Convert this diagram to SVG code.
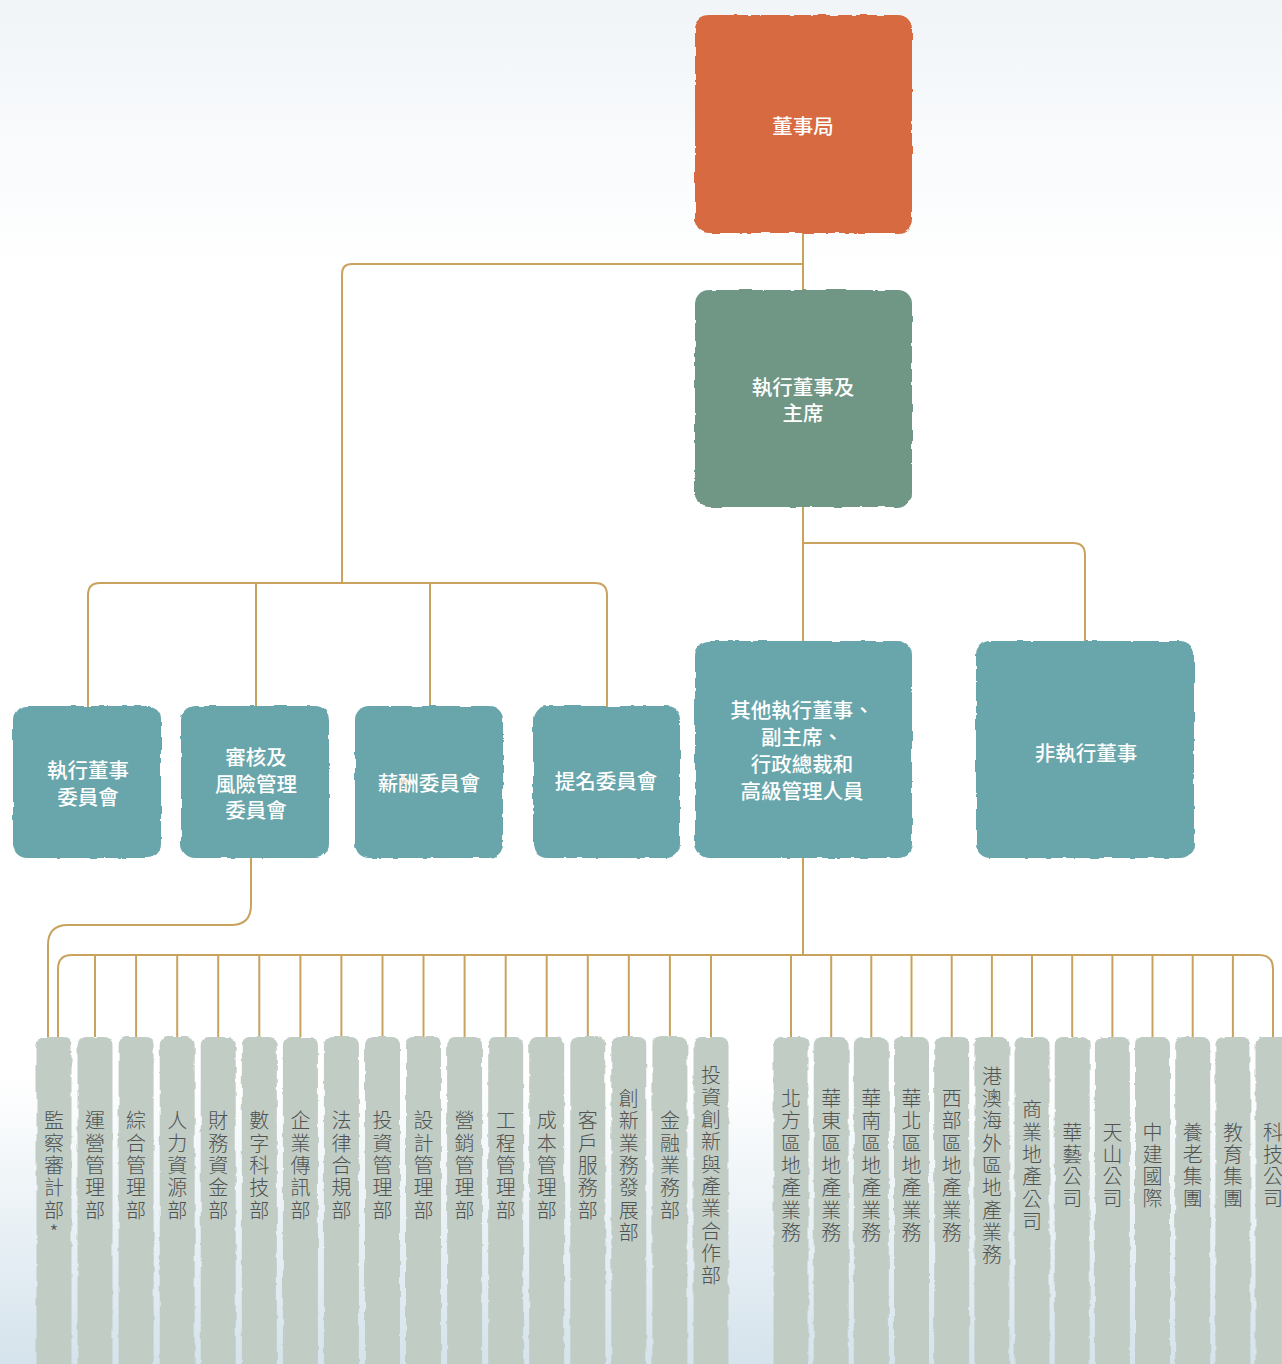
<svg xmlns="http://www.w3.org/2000/svg" width="1282" height="1364" viewBox="0 0 1282 1364">
<style>
.lbl{font-family:"Noto Sans CJK TC","Noto Sans CJK SC",sans-serif;font-size:20.5px;fill:#ffffff;text-anchor:middle;dominant-baseline:central;font-weight:500}
.col{fill:#c1ccc5}
.ct{font-family:"Noto Sans CJK TC","Noto Sans CJK SC",sans-serif;font-size:20px;fill:#505352;text-anchor:middle;dominant-baseline:central;font-weight:300}
.cn{fill:none;stroke:#c9a35e;stroke-width:2}
.orange{fill:#d76b3f}
.green{fill:#6f9686}
.teal{fill:#68a6ab}
</style>
<defs>
<linearGradient id="bg" x1="0" y1="0" x2="0" y2="1364" gradientUnits="userSpaceOnUse">
<stop offset="0" stop-color="#f1f5f8"/>
<stop offset="0.2" stop-color="#ffffff"/>
<stop offset="0.79" stop-color="#ffffff"/>
<stop offset="1" stop-color="#d5e3ec"/>
</linearGradient>
<filter id="rough" x="-20%" y="-10%" width="140%" height="120%">
<feTurbulence type="fractalNoise" baseFrequency="0.07" numOctaves="3" seed="4" result="n"/>
<feDisplacementMap in="SourceGraphic" in2="n" scale="3.5" xChannelSelector="R" yChannelSelector="G"/>
</filter>
</defs>
<rect x="0" y="0" width="1282" height="1364" fill="url(#bg)"/>

<g id="connectors" class="cn">
<path d="M803,233 V292"/>
<path d="M803,264 H352 Q342,264 342,274 V583"/>
<path d="M88,707 V595 Q88,583 100,583 H595 Q607,583 607,595 V707"/>
<path d="M256,583 V707"/>
<path d="M430,583 V707"/>
<path d="M803,507 V641"/>
<path d="M803,543 H1073 Q1085,543 1085,555 V641"/>
<path d="M251,858 V905 Q251,925 231,925 H68 Q48,925 48,945 V1037"/>
<path d="M803,858 V955"/>
<path d="M58,1037 V969 Q58,955 72,955 H1259 Q1273,955 1273,969 V1037"/>
<path d="M95,955V1037M136.1,955V1037M177.2,955V1037M218.2,955V1037M259.3,955V1037M300.4,955V1037M341.4,955V1037M382.5,955V1037M423.5,955V1037M464.6,955V1037M505.7,955V1037M546.7,955V1037M587.8,955V1037M628.8,955V1037M669.9,955V1037M711,955V1037"/>
<path d="M791,955V1037M831.2,955V1037M871.3,955V1037M911.5,955V1037M951.7,955V1037M991.9,955V1037M1032,955V1037M1072.2,955V1037M1112.4,955V1037M1152.5,955V1037M1192.7,955V1037M1232.9,955V1037"/>
</g>

<g id="board">
<rect class="orange" x="695" y="15" width="217" height="218" rx="14" filter="url(#rough)"/>
<text class="lbl" x="803" y="125">董事局</text>
</g>
<g id="chairman">
<rect class="green" x="695" y="290" width="217" height="217" rx="14" filter="url(#rough)"/>
<text class="lbl" x="803" y="386">執行董事及</text>
<text class="lbl" x="803" y="412">主席</text>
</g>
<g id="exec-committee">
<rect class="teal" x="13" y="706" width="148" height="152" rx="14" filter="url(#rough)"/>
<text class="lbl" x="88" y="769">執行董事</text>
<text class="lbl" x="88" y="796">委員會</text>
</g>
<g id="audit-committee">
<rect class="teal" x="181" y="706" width="148" height="152" rx="14" filter="url(#rough)"/>
<text class="lbl" x="256" y="756">審核及</text>
<text class="lbl" x="256" y="783">風險管理</text>
<text class="lbl" x="256" y="809">委員會</text>
</g>
<g id="remuneration-committee">
<rect class="teal" x="355" y="706" width="148" height="152" rx="14" filter="url(#rough)"/>
<text class="lbl" x="429" y="782">薪酬委員會</text>
</g>
<g id="nomination-committee">
<rect class="teal" x="533" y="706" width="147" height="152" rx="14" filter="url(#rough)"/>
<text class="lbl" x="606" y="780">提名委員會</text>
</g>
<g id="other-exec">
<rect class="teal" x="695" y="641" width="217" height="217" rx="14" filter="url(#rough)"/>
<text class="lbl" x="802" y="709">其他執行董事、</text>
<text class="lbl" x="802" y="736">副主席、</text>
<text class="lbl" x="802" y="763">行政總裁和</text>
<text class="lbl" x="802" y="790">高級管理人員</text>
</g>
<g id="non-exec">
<rect class="teal" x="976" y="641" width="218" height="217" rx="14" filter="url(#rough)"/>
<text class="lbl" x="1086" y="752">非執行董事</text>
</g>

<g id="dept-0"><rect class="col" x="36.5" y="1037" width="35" height="340" rx="8" filter="url(#rough)"/>
<text class="ct" x="54" y="1119.4"><tspan x="54">監</tspan><tspan x="54" dy="22.3">察</tspan><tspan x="54" dy="22.3">審</tspan><tspan x="54" dy="22.3">計</tspan><tspan x="54" dy="22.3">部</tspan><tspan x="54" dy="22.3">*</tspan></text></g>
<g id="dept-1"><rect class="col" x="77.5" y="1037" width="35" height="340" rx="8" filter="url(#rough)"/>
<text class="ct" x="95" y="1119.4"><tspan x="95">運</tspan><tspan x="95" dy="22.3">營</tspan><tspan x="95" dy="22.3">管</tspan><tspan x="95" dy="22.3">理</tspan><tspan x="95" dy="22.3">部</tspan></text></g>
<g id="dept-2"><rect class="col" x="118.6" y="1037" width="35" height="340" rx="8" filter="url(#rough)"/>
<text class="ct" x="136.1" y="1119.4"><tspan x="136.1">綜</tspan><tspan x="136.1" dy="22.3">合</tspan><tspan x="136.1" dy="22.3">管</tspan><tspan x="136.1" dy="22.3">理</tspan><tspan x="136.1" dy="22.3">部</tspan></text></g>
<g id="dept-3"><rect class="col" x="159.7" y="1037" width="35" height="340" rx="8" filter="url(#rough)"/>
<text class="ct" x="177.2" y="1119.4"><tspan x="177.2">人</tspan><tspan x="177.2" dy="22.3">力</tspan><tspan x="177.2" dy="22.3">資</tspan><tspan x="177.2" dy="22.3">源</tspan><tspan x="177.2" dy="22.3">部</tspan></text></g>
<g id="dept-4"><rect class="col" x="200.7" y="1037" width="35" height="340" rx="8" filter="url(#rough)"/>
<text class="ct" x="218.2" y="1119.4"><tspan x="218.2">財</tspan><tspan x="218.2" dy="22.3">務</tspan><tspan x="218.2" dy="22.3">資</tspan><tspan x="218.2" dy="22.3">金</tspan><tspan x="218.2" dy="22.3">部</tspan></text></g>
<g id="dept-5"><rect class="col" x="241.8" y="1037" width="35" height="340" rx="8" filter="url(#rough)"/>
<text class="ct" x="259.3" y="1119.4"><tspan x="259.3">數</tspan><tspan x="259.3" dy="22.3">字</tspan><tspan x="259.3" dy="22.3">科</tspan><tspan x="259.3" dy="22.3">技</tspan><tspan x="259.3" dy="22.3">部</tspan></text></g>
<g id="dept-6"><rect class="col" x="282.9" y="1037" width="35" height="340" rx="8" filter="url(#rough)"/>
<text class="ct" x="300.4" y="1119.4"><tspan x="300.4">企</tspan><tspan x="300.4" dy="22.3">業</tspan><tspan x="300.4" dy="22.3">傳</tspan><tspan x="300.4" dy="22.3">訊</tspan><tspan x="300.4" dy="22.3">部</tspan></text></g>
<g id="dept-7"><rect class="col" x="323.9" y="1037" width="35" height="340" rx="8" filter="url(#rough)"/>
<text class="ct" x="341.4" y="1119.4"><tspan x="341.4">法</tspan><tspan x="341.4" dy="22.3">律</tspan><tspan x="341.4" dy="22.3">合</tspan><tspan x="341.4" dy="22.3">規</tspan><tspan x="341.4" dy="22.3">部</tspan></text></g>
<g id="dept-8"><rect class="col" x="365" y="1037" width="35" height="340" rx="8" filter="url(#rough)"/>
<text class="ct" x="382.5" y="1119.4"><tspan x="382.5">投</tspan><tspan x="382.5" dy="22.3">資</tspan><tspan x="382.5" dy="22.3">管</tspan><tspan x="382.5" dy="22.3">理</tspan><tspan x="382.5" dy="22.3">部</tspan></text></g>
<g id="dept-9"><rect class="col" x="406" y="1037" width="35" height="340" rx="8" filter="url(#rough)"/>
<text class="ct" x="423.5" y="1119.4"><tspan x="423.5">設</tspan><tspan x="423.5" dy="22.3">計</tspan><tspan x="423.5" dy="22.3">管</tspan><tspan x="423.5" dy="22.3">理</tspan><tspan x="423.5" dy="22.3">部</tspan></text></g>
<g id="dept-10"><rect class="col" x="447.1" y="1037" width="35" height="340" rx="8" filter="url(#rough)"/>
<text class="ct" x="464.6" y="1119.4"><tspan x="464.6">營</tspan><tspan x="464.6" dy="22.3">銷</tspan><tspan x="464.6" dy="22.3">管</tspan><tspan x="464.6" dy="22.3">理</tspan><tspan x="464.6" dy="22.3">部</tspan></text></g>
<g id="dept-11"><rect class="col" x="488.2" y="1037" width="35" height="340" rx="8" filter="url(#rough)"/>
<text class="ct" x="505.7" y="1119.4"><tspan x="505.7">工</tspan><tspan x="505.7" dy="22.3">程</tspan><tspan x="505.7" dy="22.3">管</tspan><tspan x="505.7" dy="22.3">理</tspan><tspan x="505.7" dy="22.3">部</tspan></text></g>
<g id="dept-12"><rect class="col" x="529.2" y="1037" width="35" height="340" rx="8" filter="url(#rough)"/>
<text class="ct" x="546.7" y="1119.4"><tspan x="546.7">成</tspan><tspan x="546.7" dy="22.3">本</tspan><tspan x="546.7" dy="22.3">管</tspan><tspan x="546.7" dy="22.3">理</tspan><tspan x="546.7" dy="22.3">部</tspan></text></g>
<g id="dept-13"><rect class="col" x="570.3" y="1037" width="35" height="340" rx="8" filter="url(#rough)"/>
<text class="ct" x="587.8" y="1119.4"><tspan x="587.8">客</tspan><tspan x="587.8" dy="22.3">戶</tspan><tspan x="587.8" dy="22.3">服</tspan><tspan x="587.8" dy="22.3">務</tspan><tspan x="587.8" dy="22.3">部</tspan></text></g>
<g id="dept-14"><rect class="col" x="611.3" y="1037" width="35" height="340" rx="8" filter="url(#rough)"/>
<text class="ct" x="628.8" y="1097.1"><tspan x="628.8">創</tspan><tspan x="628.8" dy="22.3">新</tspan><tspan x="628.8" dy="22.3">業</tspan><tspan x="628.8" dy="22.3">務</tspan><tspan x="628.8" dy="22.3">發</tspan><tspan x="628.8" dy="22.3">展</tspan><tspan x="628.8" dy="22.3">部</tspan></text></g>
<g id="dept-15"><rect class="col" x="652.4" y="1037" width="35" height="340" rx="8" filter="url(#rough)"/>
<text class="ct" x="669.9" y="1119.4"><tspan x="669.9">金</tspan><tspan x="669.9" dy="22.3">融</tspan><tspan x="669.9" dy="22.3">業</tspan><tspan x="669.9" dy="22.3">務</tspan><tspan x="669.9" dy="22.3">部</tspan></text></g>
<g id="dept-16"><rect class="col" x="693.5" y="1037" width="35" height="340" rx="8" filter="url(#rough)"/>
<text class="ct" x="711" y="1073.5"><tspan x="711">投</tspan><tspan x="711" dy="22.3">資</tspan><tspan x="711" dy="22.3">創</tspan><tspan x="711" dy="22.3">新</tspan><tspan x="711" dy="22.3">與</tspan><tspan x="711" dy="22.3">產</tspan><tspan x="711" dy="22.3">業</tspan><tspan x="711" dy="22.3">合</tspan><tspan x="711" dy="22.3">作</tspan><tspan x="711" dy="22.3">部</tspan></text></g>

<g id="biz-0"><rect class="col" x="773.5" y="1037" width="35" height="340" rx="8" filter="url(#rough)"/>
<text class="ct" x="791" y="1097.1"><tspan x="791">北</tspan><tspan x="791" dy="22.3">方</tspan><tspan x="791" dy="22.3">區</tspan><tspan x="791" dy="22.3">地</tspan><tspan x="791" dy="22.3">產</tspan><tspan x="791" dy="22.3">業</tspan><tspan x="791" dy="22.3">務</tspan></text></g>
<g id="biz-1"><rect class="col" x="813.7" y="1037" width="35" height="340" rx="8" filter="url(#rough)"/>
<text class="ct" x="831.2" y="1097.1"><tspan x="831.2">華</tspan><tspan x="831.2" dy="22.3">東</tspan><tspan x="831.2" dy="22.3">區</tspan><tspan x="831.2" dy="22.3">地</tspan><tspan x="831.2" dy="22.3">產</tspan><tspan x="831.2" dy="22.3">業</tspan><tspan x="831.2" dy="22.3">務</tspan></text></g>
<g id="biz-2"><rect class="col" x="853.8" y="1037" width="35" height="340" rx="8" filter="url(#rough)"/>
<text class="ct" x="871.3" y="1097.1"><tspan x="871.3">華</tspan><tspan x="871.3" dy="22.3">南</tspan><tspan x="871.3" dy="22.3">區</tspan><tspan x="871.3" dy="22.3">地</tspan><tspan x="871.3" dy="22.3">產</tspan><tspan x="871.3" dy="22.3">業</tspan><tspan x="871.3" dy="22.3">務</tspan></text></g>
<g id="biz-3"><rect class="col" x="894" y="1037" width="35" height="340" rx="8" filter="url(#rough)"/>
<text class="ct" x="911.5" y="1097.1"><tspan x="911.5">華</tspan><tspan x="911.5" dy="22.3">北</tspan><tspan x="911.5" dy="22.3">區</tspan><tspan x="911.5" dy="22.3">地</tspan><tspan x="911.5" dy="22.3">產</tspan><tspan x="911.5" dy="22.3">業</tspan><tspan x="911.5" dy="22.3">務</tspan></text></g>
<g id="biz-4"><rect class="col" x="934.2" y="1037" width="35" height="340" rx="8" filter="url(#rough)"/>
<text class="ct" x="951.7" y="1097.1"><tspan x="951.7">西</tspan><tspan x="951.7" dy="22.3">部</tspan><tspan x="951.7" dy="22.3">區</tspan><tspan x="951.7" dy="22.3">地</tspan><tspan x="951.7" dy="22.3">產</tspan><tspan x="951.7" dy="22.3">業</tspan><tspan x="951.7" dy="22.3">務</tspan></text></g>
<g id="biz-5"><rect class="col" x="974.4" y="1037" width="35" height="340" rx="8" filter="url(#rough)"/>
<text class="ct" x="991.9" y="1074.8"><tspan x="991.9">港</tspan><tspan x="991.9" dy="22.3">澳</tspan><tspan x="991.9" dy="22.3">海</tspan><tspan x="991.9" dy="22.3">外</tspan><tspan x="991.9" dy="22.3">區</tspan><tspan x="991.9" dy="22.3">地</tspan><tspan x="991.9" dy="22.3">產</tspan><tspan x="991.9" dy="22.3">業</tspan><tspan x="991.9" dy="22.3">務</tspan></text></g>
<g id="biz-6"><rect class="col" x="1014.5" y="1037" width="35" height="340" rx="8" filter="url(#rough)"/>
<text class="ct" x="1032" y="1108.3"><tspan x="1032">商</tspan><tspan x="1032" dy="22.3">業</tspan><tspan x="1032" dy="22.3">地</tspan><tspan x="1032" dy="22.3">產</tspan><tspan x="1032" dy="22.3">公</tspan><tspan x="1032" dy="22.3">司</tspan></text></g>
<g id="biz-7"><rect class="col" x="1054.7" y="1037" width="35" height="340" rx="8" filter="url(#rough)"/>
<text class="ct" x="1072.2" y="1130.5"><tspan x="1072.2">華</tspan><tspan x="1072.2" dy="22.3">藝</tspan><tspan x="1072.2" dy="22.3">公</tspan><tspan x="1072.2" dy="22.3">司</tspan></text></g>
<g id="biz-8"><rect class="col" x="1094.9" y="1037" width="35" height="340" rx="8" filter="url(#rough)"/>
<text class="ct" x="1112.4" y="1130.5"><tspan x="1112.4">天</tspan><tspan x="1112.4" dy="22.3">山</tspan><tspan x="1112.4" dy="22.3">公</tspan><tspan x="1112.4" dy="22.3">司</tspan></text></g>
<g id="biz-9"><rect class="col" x="1135" y="1037" width="35" height="340" rx="8" filter="url(#rough)"/>
<text class="ct" x="1152.5" y="1130.5"><tspan x="1152.5">中</tspan><tspan x="1152.5" dy="22.3">建</tspan><tspan x="1152.5" dy="22.3">國</tspan><tspan x="1152.5" dy="22.3">際</tspan></text></g>
<g id="biz-10"><rect class="col" x="1175.2" y="1037" width="35" height="340" rx="8" filter="url(#rough)"/>
<text class="ct" x="1192.7" y="1130.5"><tspan x="1192.7">養</tspan><tspan x="1192.7" dy="22.3">老</tspan><tspan x="1192.7" dy="22.3">集</tspan><tspan x="1192.7" dy="22.3">團</tspan></text></g>
<g id="biz-11"><rect class="col" x="1215.4" y="1037" width="35" height="340" rx="8" filter="url(#rough)"/>
<text class="ct" x="1232.9" y="1130.5"><tspan x="1232.9">教</tspan><tspan x="1232.9" dy="22.3">育</tspan><tspan x="1232.9" dy="22.3">集</tspan><tspan x="1232.9" dy="22.3">團</tspan></text></g>
<g id="biz-12"><rect class="col" x="1255.5" y="1037" width="35" height="340" rx="8" filter="url(#rough)"/>
<text class="ct" x="1273" y="1130.5"><tspan x="1273">科</tspan><tspan x="1273" dy="22.3">技</tspan><tspan x="1273" dy="22.3">公</tspan><tspan x="1273" dy="22.3">司</tspan></text></g>
</svg>
